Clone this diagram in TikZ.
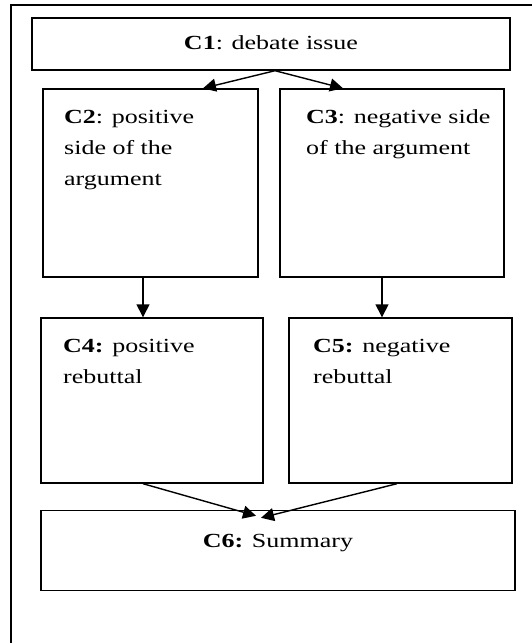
\documentclass[tikz,border=0pt]{standalone}
\usepackage{fontspec}
\setmainfont{Liberation Serif}[FakeStretch=1.3]
\usetikzlibrary{arrows.meta}
\begin{document}
\begin{tikzpicture}[x=1pt,y=-1pt,
  box/.style={draw,line width=1.4pt,inner sep=0pt,rectangle},
  txt/.style={inner sep=0pt,font=\fontsize{20}{24}\selectfont},
  arr/.style={line width=1.4pt,-{Triangle[length=13pt,width=13pt]}}]
\useasboundingbox (0,0) rectangle (531,643);
% outer frame (clipped at right and bottom)
\draw[line width=1.3pt] (11,660) -- (11,5) -- (545,5);
% boxes
\node[box,minimum width=478pt,minimum height=52pt] (c1) at (271,44) {};
\node[box,minimum width=215pt,minimum height=188pt] (c2) at (150.5,183) {};
\node[box,minimum width=224pt,minimum height=188pt] (c3) at (392,183) {};
\node[box,minimum width=222pt,minimum height=165pt] (c4) at (152,400.5) {};
\node[box,minimum width=223pt,minimum height=165pt] (c5) at (400.5,400.5) {};
\node[box,minimum width=474pt,minimum height=80pt] (c6) at (278,550.5) {};
% texts
\node[txt,anchor=base] (t1) at (271,49) {\textbf{C1}: debate issue};
\node[txt,anchor=base west] (t2a) at (64,123) {\textbf{C2}: positive};
\node[txt,anchor=base west] (t2b) at (64,154) {side of the};
\node[txt,anchor=base west] (t2c) at (64,185) {argument};
\node[txt,anchor=base west] (t3a) at (306,123) {\textbf{C3}: negative side};
\node[txt,anchor=base west] (t3b) at (306,154) {of the argument};
\node[txt,anchor=base west] (t4a) at (63,352) {\textbf{C4:} positive};
\node[txt,anchor=base west] (t4b) at (63,383) {rebuttal};
\node[txt,anchor=base west] (t5a) at (313,352) {\textbf{C5:} negative};
\node[txt,anchor=base west] (t5b) at (313,383) {rebuttal};
\node[txt,anchor=base] (t6) at (278,547) {\textbf{C6:} Summary};
% connectors
\draw[arr] ([xshift=4pt]c1.south) -- ([xshift=52.5pt]c2.north);
\draw[arr] ([xshift=4pt]c1.south) -- ([xshift=-49pt]c3.north);
\draw[arr] ([xshift=-7.5pt]c2.south) coordinate (a2) -- (a2 |- c4.north);
\draw[arr] ([xshift=-10pt]c3.south) coordinate (a3) -- (a3 |- c5.north);
\draw[arr] ([xshift=-9pt]c4.south) -- ([xshift=-22pt,yshift=-6pt]c6.north);
\draw[arr] ([xshift=-3.5pt]c5.south) -- ([xshift=-17pt,yshift=-8pt]c6.north);
\end{tikzpicture}
\end{document}
